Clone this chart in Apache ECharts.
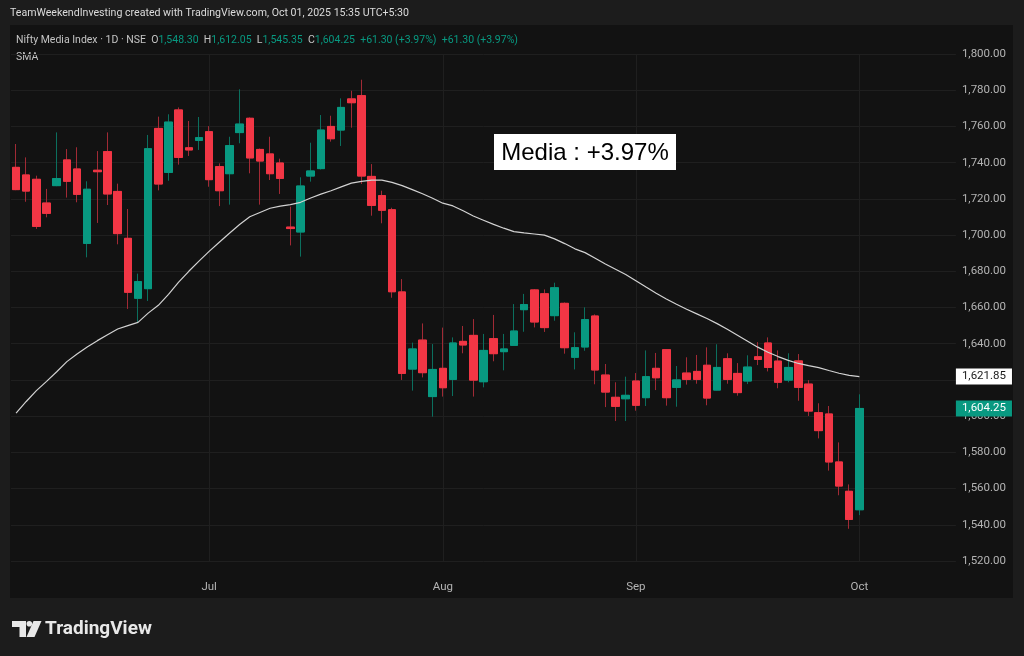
<!DOCTYPE html>
<html><head><meta charset="utf-8">
<script src="https://cdn.jsdelivr.net/npm/echarts@6/dist/echarts.min.js"></script>
<style>html,body{margin:0;padding:0;background:#1c1c1c}#c{width:1024px;height:656px}</style>
</head><body><div id="c"></div>
<script>
// ---- data ----
const dates = [
'2025-06-04','2025-06-05','2025-06-06','2025-06-09','2025-06-10','2025-06-11','2025-06-12','2025-06-13','2025-06-16','2025-06-17',
'2025-06-18','2025-06-19','2025-06-20','2025-06-23','2025-06-24','2025-06-25','2025-06-26','2025-06-27','2025-06-30',
'2025-07-01','2025-07-02','2025-07-03','2025-07-04','2025-07-07','2025-07-08','2025-07-09','2025-07-10','2025-07-11','2025-07-14',
'2025-07-15','2025-07-16','2025-07-17','2025-07-18','2025-07-21','2025-07-22','2025-07-23','2025-07-24','2025-07-25','2025-07-28',
'2025-07-29','2025-07-30','2025-07-31',
'2025-08-01','2025-08-04','2025-08-05','2025-08-06','2025-08-07','2025-08-08','2025-08-11','2025-08-12','2025-08-13','2025-08-14',
'2025-08-18','2025-08-19','2025-08-20','2025-08-21','2025-08-22','2025-08-25','2025-08-26','2025-08-28','2025-08-29',
'2025-09-01','2025-09-02','2025-09-03','2025-09-04','2025-09-05','2025-09-08','2025-09-09','2025-09-10','2025-09-11','2025-09-12',
'2025-09-15','2025-09-16','2025-09-17','2025-09-18','2025-09-19','2025-09-22','2025-09-23','2025-09-24','2025-09-25','2025-09-26',
'2025-09-29','2025-09-30',
'2025-10-01'];
const futureDates = ['2025-10-03','2025-10-06','2025-10-07','2025-10-08','2025-10-09','2025-10-10','2025-10-13','2025-10-14','2025-10-15'];
const opens = [
1737.4,1733.2,1730.8,1717.7,1727.3,1741.5,1736.5,1695.4,1735.8,1746.1,
1724.1,1698.2,1665.1,1670.4,1758.9,1734.6,1769.1,1748.2,1752.3,
1757.1,1737.8,1733.9,1756.6,1764.5,1747.3,1744.8,1739.8,1704.4,1701.7,
1732.6,1736.7,1760.0,1758.0,1775.2,1777.0,1732.4,1721.8,1714.0,1668.6,
1626.0,1642.0,1610.8,
1626.4,1620.3,1641.3,1644.6,1619.0,1642.8,1635.6,1639.1,1658.8,1669.7,
1667.6,1655.5,1662.3,1632.5,1638.2,1655.3,1622.7,1610.4,1609.6,
1619.4,1610.2,1626.4,1636.7,1615.9,1623.8,1624.7,1628.1,1614.4,1631.7,
1623.6,1619.4,1632.8,1640.4,1630.4,1619.9,1630.5,1617.7,1601.9,1601.2,
1574.7,1558.5,
1548.30];
const highs = [
1750.3,1742.9,1732.8,1725.5,1756.7,1747.5,1748.5,1729.7,1746.4,1756.7,
1728.4,1714.4,1678.7,1755.3,1765.4,1766.7,1770.5,1763.0,1765.2,
1760.2,1739.6,1754.3,1780.5,1765.0,1747.8,1754.3,1742.2,1715.7,1731.9,
1751.0,1766.3,1765.9,1775.5,1779.7,1785.8,1739.2,1724.5,1715.1,1675.7,
1640.6,1651.2,1639.8,
1648.9,1643.5,1649.8,1653.6,1645.4,1655.9,1645.4,1661.9,1667.5,1670.2,
1670.0,1673.7,1662.8,1646.3,1660.1,1656.2,1628.8,1618.7,1621.8,
1623.8,1636.3,1634.9,1637.0,1627.7,1632.5,1633.8,1638.0,1639.7,1634.7,
1629.3,1633.6,1640.9,1643.5,1636.3,1634.7,1634.3,1619.9,1607.1,1605.6,
1585.5,1562.3,
1612.05];
const lows = [
1724.8,1718.4,1703.4,1709.8,1727.0,1720.7,1718.1,1687.7,1706.7,1716.6,
1694.9,1659.2,1652.0,1663.6,1724.7,1730.0,1738.9,1743.7,1747.0,
1726.7,1716.0,1716.8,1750.7,1734.1,1716.8,1730.4,1722.7,1694.3,1688.1,
1729.5,1736.2,1751.6,1749.2,1759.3,1728.2,1710.7,1706.5,1665.4,1620.0,
1614.1,1621.4,1599.7,
1610.8,1611.1,1634.7,1610.8,1615.9,1630.3,1625.3,1639.0,1646.6,1649.0,
1646.5,1652.7,1634.5,1625.8,1636.1,1617.6,1605.0,1597.3,1597.3,
1603.0,1605.6,1614.4,1605.8,1605.2,1617.4,1617.9,1606.0,1614.2,1617.9,
1611.3,1617.7,1628.2,1624.7,1615.4,1618.7,1608.5,1600.1,1587.7,1569.9,
1556.3,1537.8,
1545.35];
const closes = [
1725.1,1724.3,1704.8,1712.0,1731.2,1729.7,1722.5,1725.3,1735.0,1722.7,
1700.8,1668.4,1674.3,1747.7,1728.2,1762.4,1742.9,1747.0,1753.8,
1730.6,1724.5,1749.4,1761.3,1742.6,1740.9,1733.9,1731.3,1703.6,1727.1,
1735.4,1758.0,1753.2,1770.5,1773.1,1732.6,1716.4,1713.7,1668.7,1623.6,
1637.1,1624.0,1625.8,
1615.7,1640.4,1639.3,1619.9,1636.3,1634.5,1637.1,1647.0,1661.6,1652.0,
1648.9,1670.9,1637.8,1637.8,1653.3,1625.5,1613.3,1605.4,1611.5,
1606.0,1621.8,1621.2,1610.2,1620.0,1620.3,1620.3,1610.0,1626.9,1620.3,
1613.0,1627.1,1631.3,1626.9,1618.7,1626.9,1615.9,1602.8,1592.0,1574.7,
1561.4,1542.95,
1604.25];
const sma = [
1601.7,1608.1,1614.1,1619.2,1624.5,1630.1,1634.3,1638.2,1641.7,1644.9,
1648.1,1650.0,1651.8,1656.9,1661.2,1667.3,1674.0,1680.0,1685.6,
1691.0,1696.0,1701.0,1705.8,1710.1,1712.5,1714.8,1716.0,1716.8,1718.1,
1720.5,1722.6,1724.5,1726.6,1728.7,1729.7,1730.3,1730.3,1729.1,1727.3,
1725.1,1722.8,1720.3,
1717.6,1716.1,1713.4,1710.5,1708.2,1705.9,1703.8,1701.9,1701.2,1700.6,
1700.0,1697.9,1695.3,1692.4,1690.3,1687.2,1684.0,1681.1,1678.2,
1674.8,1671.3,1667.9,1664.7,1661.8,1659.0,1656.5,1653.9,1651.1,1648.0,
1644.7,1641.4,1638.1,1635.3,1632.9,1630.8,1629.1,1627.9,1626.8,1625.2,
1623.7,1622.5,
1621.85];
const monthLabels = {'2025-07-01':'Jul','2025-08-01':'Aug','2025-09-01':'Sep','2025-10-01':'Oct'};
const yMin = 1520, yMax = 1800, yStep = 20;
const hiddenYLabels = [1620];
const titleText = 'TeamWeekendInvesting created with TradingView.com, Oct 01, 2025 15:35 UTC+5:30';
const symbolText = 'Nifty Media Index · 1D · NSE';
const noteText = 'Media : +3.97%';

// ---- chart ----
const UP = '#089981', DOWN = '#F23645', UPW = '#0b6f5e', DOWNW = '#a12a35';
const fmt = v => Number(v).toLocaleString('en-US', {minimumFractionDigits: 2, maximumFractionDigits: 2});
const n = closes.length;
const lastO = opens[n-1], lastH = highs[n-1], lastL = lows[n-1], lastC = closes[n-1];
const chg = lastC - closes[n-2];
const pct = chg / closes[n-2] * 100;
const chgTxt = (chg >= 0 ? '+' : '') + chg.toFixed(2) + ' (' + (pct >= 0 ? '+' : '') + pct.toFixed(2) + '%)';

const cats = dates.concat(futureDates);
const wickData = dates.map((d, i) => [opens[i], closes[i], lows[i], highs[i]]);
const bodyData = dates.map((d, i) => [opens[i], closes[i], Math.min(opens[i], closes[i]), Math.max(opens[i], closes[i])]);

const F = 'Roboto, "Liberation Sans", sans-serif';
const LF = '10.5px ' + F;
const chart = echarts.init(document.getElementById('c'), null, {renderer: 'canvas'});
chart.setOption({
  backgroundColor: '#1c1c1c',
  animation: false,
  grid: {left: 11, right: 68.1, top: 54, bottom: 95, containLabel: false},
  xAxis: {
    type: 'category', data: cats, boundaryGap: true,
    axisLine: {show: false}, axisTick: {show: false}, splitLine: {show: false},
    axisLabel: {
      interval: (idx, val) => monthLabels[val] !== undefined,
      formatter: val => monthLabels[val] || '',
      color: '#b4b4b4', fontFamily: F, fontSize: 11.5, margin: 20
    }
  },
  yAxis: {
    type: 'value', position: 'right', min: yMin, max: yMax, interval: yStep,
    axisLine: {show: false}, axisTick: {show: false},
    splitLine: {show: true, lineStyle: {color: '#1f1f1f', width: 1}},
    axisLabel: {
      formatter: v => hiddenYLabels.includes(v) ? '' : fmt(v),
      color: '#b4b4b4', fontFamily: F, fontSize: 11.5, margin: 6
    }
  },
  graphic: [
    {type: 'rect', z: -100, silent: true, shape: {x: 10, y: 25, width: 1003, height: 573}, style: {fill: '#121212'}},
    {type: 'text', x: 10, y: 13, silent: true, style: {text: titleText, fill: '#dcdcdc', font: '10.6px ' + F, verticalAlign: 'middle'}},
    {type: 'text', x: 16, y: 40, silent: true, style: {
      text: '{t|' + symbolText + '}  {k|O}{v|' + fmt(lastO) + '}  {k|H}{v|' + fmt(lastH) + '}  {k|L}{v|' + fmt(lastL) + '}  {k|C}{v|' + fmt(lastC) + '}  {v|' + chgTxt + '}  {v|' + chgTxt + '}',
      verticalAlign: 'middle', font: LF,
      rich: {
        t: {fill: '#c4c4c4', font: LF},
        k: {fill: '#c4c4c4', font: LF},
        v: {fill: UP, font: LF}
      }
    }},
    {type: 'text', x: 16, y: 57, silent: true, style: {text: 'SMA', fill: '#c4c4c4', font: LF, verticalAlign: 'middle'}},
    {type: 'group', z: 200, silent: true, children: [
      {type: 'rect', z: 200, shape: {x: 494, y: 134, width: 182, height: 36}, style: {fill: '#ffffff'}},
      {type: 'text', z: 201, x: 585, y: 153, style: {text: noteText, fill: '#000000', font: '24px "Liberation Sans", Arial, sans-serif', align: 'center', verticalAlign: 'middle'}}
    ]},
    {type: 'group', silent: true, children: [
      {type: 'polygon', shape: {points: [[12,621],[26,621],[26,637],[19.5,637],[19.5,627],[12,627]]}, style: {fill: '#e8e8e8'}},
      {type: 'circle', shape: {cx: 29.3, cy: 623.8, r: 2.8}, style: {fill: '#e8e8e8'}},
      {type: 'polygon', shape: {points: [[33.5,621],[41.5,621],[34.5,637],[26.5,637]]}, style: {fill: '#e8e8e8'}},
      {type: 'text', x: 45, y: 629, style: {text: 'TradingView', fill: '#e8e8e8', font: 'bold 19px ' + F, verticalAlign: 'middle'}}
    ]}
  ],
  series: [
    {
      name: 'wick', type: 'candlestick', data: wickData, barWidth: 8,
      itemStyle: {color: UPW, color0: DOWNW, borderColor: UPW, borderColor0: DOWNW, borderWidth: 1},
      markLine: {
        silent: true, z: 1, symbol: 'none', animation: false,
        label: {show: false},
        lineStyle: {color: '#1f1f1f', width: 1, type: 'solid'},
        data: Object.keys(monthLabels).map(d => ({xAxis: d}))
      }
    },
    {
      name: 'body', type: 'candlestick', data: bodyData, barWidth: 8,
      itemStyle: {color: UP, color0: DOWN, borderColor: UP, borderColor0: DOWN, borderWidth: 1},
      markLine: {
        silent: true, symbol: 'none', animation: false,
        lineStyle: {color: 'rgba(0,0,0,0)', width: 0.1, type: 'solid'},
        label: {show: true, position: 'end', distance: 0, formatter: () => fmt(lastC),
          backgroundColor: UP, color: '#ffffff', padding: [2, 6, 2, 6], fontFamily: F, fontSize: 11.5, lineHeight: 12},
        emphasis: {disabled: true},
        data: [{yAxis: lastC}]
      }
    },
    {
      name: 'SMA', type: 'line', data: sma, showSymbol: false, symbol: 'none', z: 3,
      lineStyle: {color: '#d2d2d2', width: 1.2}, smooth: false,
      markLine: {
        silent: true, symbol: 'none', animation: false,
        lineStyle: {color: 'rgba(0,0,0,0)', width: 0.1, type: 'solid'},
        label: {show: true, position: 'end', distance: 0, formatter: () => fmt(sma[sma.length-1]),
          backgroundColor: '#ffffff', color: '#1a1a1a', padding: [2, 6, 2, 6], fontFamily: F, fontSize: 11.5, lineHeight: 12},
        emphasis: {disabled: true},
        data: [{yAxis: sma[sma.length-1]}]
      }
    }
  ]
});
</script></body></html>
